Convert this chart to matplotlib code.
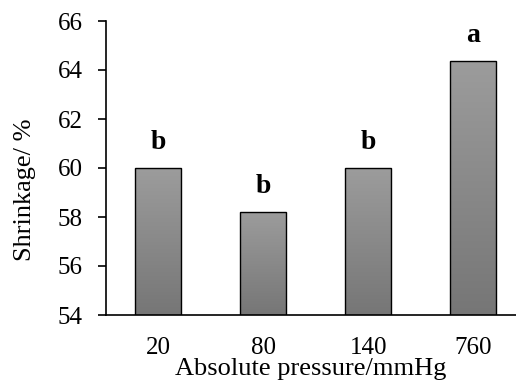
import numpy as np
import matplotlib
matplotlib.use("Agg")
import matplotlib.pyplot as plt

pressures = ["20", "80", "140", "760"]
shrinkage = [60.0, 58.2, 60.0, 64.35]
letters = ["b", "b", "b", "a"]

plt.rcParams["font.family"] = ["Liberation Serif", "DejaVu Serif"]

fig = plt.figure(figsize=(5.16, 3.87), dpi=100)
ax = fig.add_axes([106 / 516, 1 - 315 / 387, 1 - 106 / 516, (315 - 21) / 387])

x = np.arange(len(pressures))
bars = ax.bar(x, shrinkage, width=0.44, bottom=0, color="none",
              edgecolor="black", linewidth=1.0, zorder=3)

# vertical grey gradient inside each bar
grad = np.linspace(0, 1, 256).reshape(-1, 1)
cmap = matplotlib.colors.LinearSegmentedColormap.from_list("g", ["#767676", "#9c9c9c"])
for b in bars:
    x0, w, h = b.get_x(), b.get_width(), b.get_height()
    im = ax.imshow(grad, extent=[x0, x0 + w, 54, h], origin="lower",
                   cmap=cmap, aspect="auto", zorder=2)
    im.set_clip_path(b)

for xi, v, t in zip(x, shrinkage, letters):
    ax.text(xi, v + 0.55, t, ha="center", va="bottom", fontsize=20,
            fontweight="bold")

ax.set_ylim(54, 66)
ax.set_xlim(-0.5, 3.41)
ax.set_yticks(range(54, 67, 2))
ax.set_xticks(x)
ax.set_xticklabels(pressures)
ax.tick_params(axis="y", labelsize=18, direction="out", length=6, width=1.2, pad=11)
ax.tick_params(axis="x", labelsize=18, length=0, pad=16)
for s in ["top", "right"]:
    ax.spines[s].set_visible(False)
ax.spines["left"].set_linewidth(1.2)
ax.spines["bottom"].set_linewidth(1.2)

ax.set_ylabel("Shrinkage/ %", fontsize=19)
ax.yaxis.set_label_coords(-0.17, 0.425)
ax.set_xlabel("Absolute pressure/mmHg", fontsize=19, labelpad=-1)

fig.savefig("out.png", dpi=100)
